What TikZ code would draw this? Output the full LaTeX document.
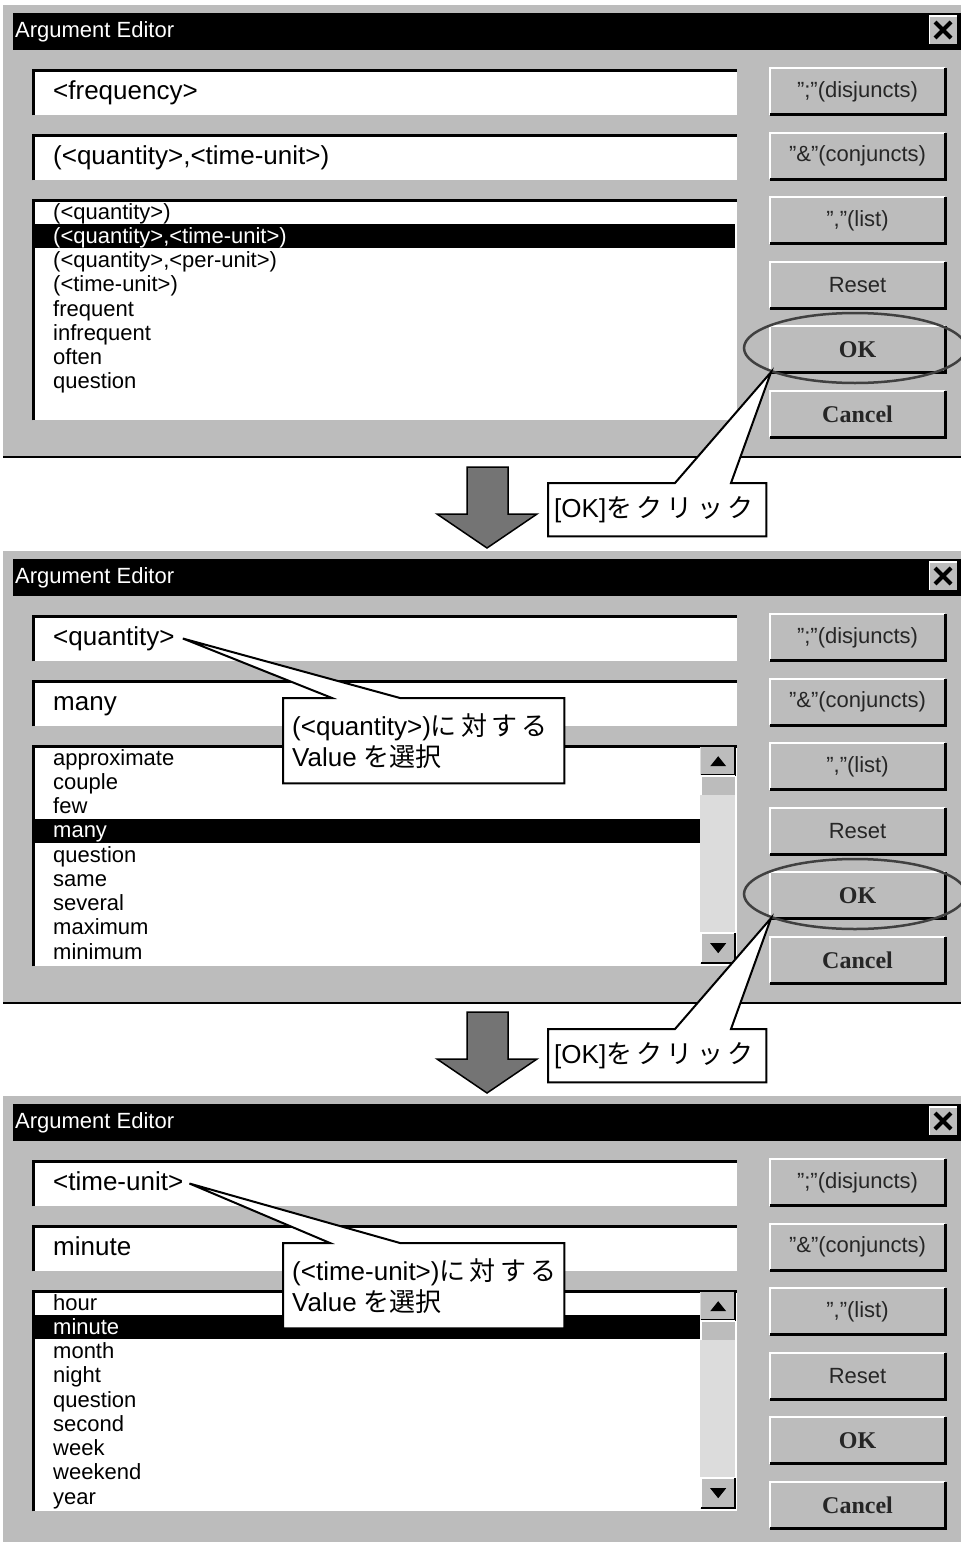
\documentclass[tikz,border=0pt]{standalone}
\usepackage{fontspec}
\setmainfont{Liberation Sans}
\newfontfamily\jpfont{Noto Sans CJK JP}
\newfontfamily\btnserif{Liberation Serif}
\usetikzlibrary{calc,shapes.geometric}

\definecolor{uigray}{HTML}{BCBCBC}
\definecolor{arrowgray}{HTML}{747474}
\definecolor{ringgray}{HTML}{404040}
\definecolor{trackgray}{HTML}{DCDCDC}

\newcommand\okfont{\btnserif\bfseries\fontsize{24}{26}\selectfont}

\tikzset{
  titlebar/.style={fill=black, inner sep=0pt, anchor=north west, minimum width=950pt, minimum height=37pt},
  titletext/.style={anchor=west, inner sep=0pt, text=white, font=\fontsize{22}{24}\selectfont},
  whitebox/.style={fill=white, inner sep=0pt, anchor=north west, minimum width=704pt},
  sunken/.style={line width=3pt, black},
  btn/.style={fill=uigray, inner sep=0pt, minimum width=175pt, minimum height=46pt, text=black!85, font=\fontsize{22}{24}\selectfont},
  fieldtext/.style={anchor=west, inner sep=0pt, text height=19pt, text depth=6pt, font=\fontsize{26}{28}\selectfont},
  itemtext/.style={anchor=west, inner sep=0pt, text height=16pt, text depth=5pt, font=\fontsize{22}{24}\selectfont},
  ring/.style={ellipse, draw=ringgray, line width=2.5pt, minimum width=222pt, minimum height=70pt, inner sep=0pt},
  calloutframe/.style={anchor=north west, inner sep=0pt},
  calloutline/.style={fill=white, draw=black, line width=2pt, line join=miter},
  callouttext/.style={anchor=west, inner sep=0pt, align=left, font=\fontsize{26}{31}\selectfont},
  bigarrow/.style={fill=arrowgray, draw=black, line width=1.5pt, line join=miter},
  scrollbtn/.style={fill=uigray, inner sep=0pt, anchor=north west, minimum width=34pt},
}

% raised push button with highlight and shadow
\newcommand\uibtn[3]{%
  \node[btn] (#1) at (857.5,#2) {#3};
  \draw[white, line width=2pt] (#1.south west) |- (#1.north east);
  \draw[black, line width=3pt] (#1.south west) -| (#1.north east);
}

% window frame, title bar, entry fields, list box and button column
\newcommand\editorframe{%
  \fill[uigray] (3,5) rectangle (975,458);
  \draw[black, line width=2.5pt] (3,457) -- (975,457);
  \node[titlebar] (bar) at (13,13) {};
  \node[titletext] (title) at (15,31.5) {Argument Editor};
  \node[fill=uigray, inner sep=0pt, minimum width=27pt, minimum height=28pt] (close) at (943,30) {};
  \draw[white, line width=1.5pt] (close.south west) |- (close.north east);
  \draw[black, line width=4pt] ([shift={(-8,-8)}]close.center) -- ([shift={(8,8)}]close.center);
  \draw[black, line width=4pt] ([shift={(-8,8)}]close.center) -- ([shift={(8,-8)}]close.center);
  \node[whitebox, minimum height=45pt] (f1) at (33,70) {};
  \draw[sunken] (f1.south west) |- (f1.north east);
  \node[whitebox, minimum height=45pt] (f2) at (33,135) {};
  \draw[sunken] (f2.south west) |- (f2.north east);
  \node[whitebox, minimum height=220pt] (list) at (33,200) {};
  \draw[sunken] (list.south west) |- (list.north east);
  \uibtn{bdis}{91.5}{";"(disjuncts)}
  \uibtn{bcon}{156}{"\&"(conjuncts)}
  \uibtn{blist}{220.5}{","(list)}
  \uibtn{breset}{285}{Reset}
  \uibtn{bok}{349.5}{\okfont OK}
  \uibtn{bcancel}{414}{\okfont Cancel}
}

% vertical scroll bar at the right side of the list box
\newcommand\uiscrollbar{%
  \node[fill=trackgray, inner sep=0pt, anchor=north west, minimum width=35pt, minimum height=217pt] (track) at (700,201) {};
  \node[scrollbtn, minimum height=28pt] (up) at (701,201) {};
  \draw[black, line width=2pt] (up.south west) -| (up.north east);
  \fill ([shift={(-8,5)}]up.center) -- ([shift={(8,5)}]up.center) -- ([shift={(0,-5)}]up.center) -- cycle;
  \node[scrollbtn, minimum height=19pt] (thumb) at (701,230) {};
  \draw[white, line width=1.5pt] (thumb.south west) |- (thumb.north east);
  \node[scrollbtn, minimum height=30pt] (down) at (701,387) {};
  \draw[white, line width=1.5pt] (down.south west) |- (down.north east);
  \draw[black, line width=2pt] (down.south west) -| (down.north east);
  \fill ([shift={(-8,-5)}]down.center) -- ([shift={(8,-5)}]down.center) -- ([shift={(0,5)}]down.center) -- cycle;
}

% list entries; #1 = index of the selected entry
\newcommand\listitems[2]{%
  \foreach \t [count=\i from 0] in {#2} {
    \ifnum\i=#1 \def\tc{white}\else\def\tc{black}\fi
    \node[itemtext, text=\tc] (item\i) at (53,213.5+24.25*\i) {\t};
  }
}

\begin{document}
\begin{tikzpicture}[x=1pt, y=-1pt]
\path[use as bounding box] (0,0) rectangle (961,1542);
\clip (0,0) rectangle (961,1542);
\fill[white] (0,0) rectangle (961,1542);

% ---- first dialog
\begin{scope}[name prefix=p1-]
  \editorframe
  \node[fieldtext] (f1text) at (53,92.5) {<frequency>};
  \node[fieldtext] (f2text) at (53,157.5) {(<quantity>,<time-unit>)};
  \fill[black] (35,224.25) rectangle (735,248.25);
  \listitems{1}{(<quantity>),{(<quantity>,<time-unit>)},{(<quantity>,<per-unit>)},(<time-unit>),frequent,infrequent,often,question}
  \node[ring] (ring) at (855,348) {};
\end{scope}

% ---- second dialog
\begin{scope}[shift={(0,546)}, name prefix=p2-]
  \editorframe
  \node[fieldtext] (f1text) at (53,92.5) {<quantity>};
  \node[fieldtext] (f2text) at (53,157.5) {many};
  \fill[black] (35,272.75) rectangle (700,296.75);
  \uiscrollbar
  \listitems{3}{approximate,couple,few,many,question,same,several,maximum,minimum}
  \node[ring] (ring) at (855,348) {};
\end{scope}

% ---- third dialog
\begin{scope}[shift={(0,1091)}, name prefix=p3-]
  \editorframe
  \node[fieldtext] (f1text) at (53,92.5) {<time-unit>};
  \node[fieldtext] (f2text) at (53,157.5) {minute};
  \fill[black] (35,224.25) rectangle (700,248.25);
  \uiscrollbar
  \listitems{1}{hour,minute,month,night,question,second,week,weekend,year}
\end{scope}

% ---- step arrows
\draw[bigarrow] (467,467) -- (508,467) -- (508,514) -- (537,514) -- (487,548) -- (437,514) -- (467,514) -- cycle;
\draw[bigarrow] (467,1012) -- (508,1012) -- (508,1059) -- (537,1059) -- (487,1093) -- (437,1059) -- (467,1059) -- cycle;

% ---- callouts pointing at the OK buttons
\node[calloutframe, minimum width=218pt, minimum height=53pt] (ok1) at (548,483) {};
\coordinate (ok1tip) at (p1-ring.196);
\draw[calloutline] (ok1.north west) -- ([xshift=127pt]ok1.north west) -- (ok1tip)
  -- ([xshift=183pt]ok1.north west) -- (ok1.north east) -- (ok1.south east) -- (ok1.south west) -- cycle;
\node[callouttext] (ok1text) at ([xshift=6pt]ok1.west) {[OK]{\jpfont を\,ク\,リ\,ッ\,ク}};

\node[calloutframe, minimum width=218pt, minimum height=53pt] (ok2) at (548,1029) {};
\coordinate (ok2tip) at (p2-ring.196);
\draw[calloutline] (ok2.north west) -- ([xshift=127pt]ok2.north west) -- (ok2tip)
  -- ([xshift=183pt]ok2.north west) -- (ok2.north east) -- (ok2.south east) -- (ok2.south west) -- cycle;
\node[callouttext] (ok2text) at ([xshift=6pt]ok2.west) {[OK]{\jpfont を\,ク\,リ\,ッ\,ク}};

% ---- callouts pointing at the argument being filled
\node[calloutframe, minimum width=281pt, minimum height=85pt] (qv) at (283,698) {};
\coordinate (qvtip) at ([xshift=8pt]p2-f1text.east);
\draw[calloutline] (qv.north west) -- ([xshift=49pt]qv.north west) -- (qvtip)
  -- ([xshift=117pt]qv.north west) -- (qv.north east) -- (qv.south east) -- (qv.south west) -- cycle;
\node[callouttext] (qvtext) at ([xshift=9pt]qv.west) {(<quantity>){\jpfont に\,対\,す\,る}\\Value {\jpfont を選択}};

\node[calloutframe, minimum width=281pt, minimum height=85pt] (tv) at (283,1243) {};
\coordinate (tvtip) at ([xshift=6pt]p3-f1text.east);
\draw[calloutline] (tv.north west) -- ([xshift=47pt]tv.north west) -- (tvtip)
  -- ([xshift=117pt]tv.north west) -- (tv.north east) -- (tv.south east) -- (tv.south west) -- cycle;
\node[callouttext] (tvtext) at ([xshift=9pt]tv.west) {(<time-unit>){\jpfont に\,対\,す\,る}\\Value {\jpfont を選択}};
\end{tikzpicture}
\end{document}
